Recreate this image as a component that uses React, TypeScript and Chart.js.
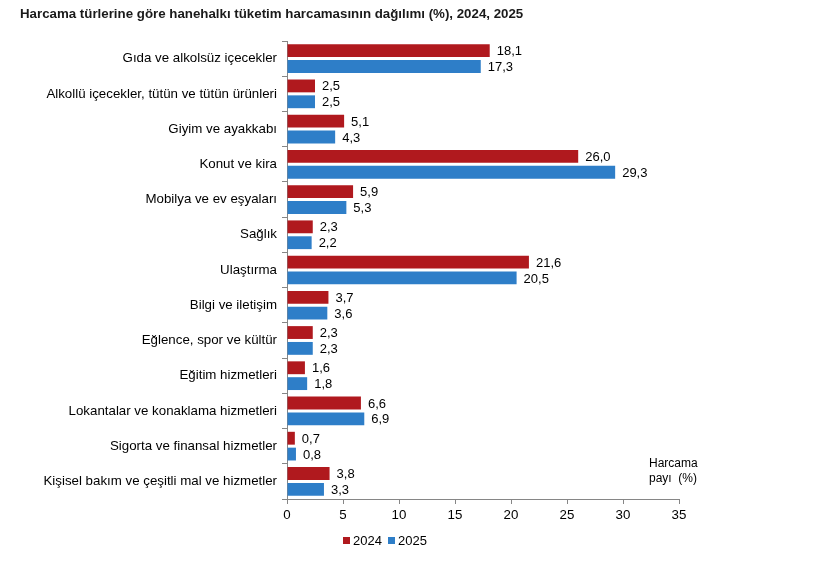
import React, { useEffect, useRef } from "react";
import { Chart, registerables } from "chart.js";

Chart.register(...registerables);

const categories = [
  "Gıda ve alkolsüz içecekler",
  "Alkollü içecekler, tütün ve tütün ürünleri",
  "Giyim ve ayakkabı",
  "Konut ve kira",
  "Mobilya ve ev eşyaları",
  "Sağlık",
  "Ulaştırma",
  "Bilgi ve iletişim",
  "Eğlence, spor ve kültür",
  "Eğitim hizmetleri",
  "Lokantalar ve konaklama hizmetleri",
  "Sigorta ve finansal hizmetler",
  "Kişisel bakım ve çeşitli mal ve hizmetler",
];

const values2024 = [18.1, 2.5, 5.1, 26.0, 5.9, 2.3, 21.6, 3.7, 2.3, 1.6, 6.6, 0.7, 3.8];
const values2025 = [17.3, 2.5, 4.3, 29.3, 5.3, 2.2, 20.5, 3.6, 2.3, 1.8, 6.9, 0.8, 3.3];

const seriesLabels = ["2024", "2025"];
const seriesColors = ["#B0191E", "#2E7EC8"];

const titleText = "Harcama türlerine göre hanehalkı tüketim harcamasının dağılımı (%), 2024, 2025";
const axisTitleLines = ["Harcama", "payı  (%)"];

const FONT = "'Liberation Sans', Arial, sans-serif";

const fmt = (v: number) => v.toFixed(1).replace(".", ",");

// Draws the title, value labels, axis caption and legend on top of the chart.
const annotations = {
  id: "annotations",
  afterDatasetsDraw(chart: any) {
    const { ctx } = chart;
    ctx.save();

    // title
    ctx.fillStyle = "#1a1a1a";
    ctx.font = `bold 13.3px ${FONT}`;
    ctx.textAlign = "left";
    ctx.textBaseline = "middle";
    ctx.fillText(titleText, 20, 14.5);

    // value labels at bar ends
    ctx.font = `13px ${FONT}`;
    ctx.fillStyle = "#000";
    chart.data.datasets.forEach((ds: any, di: number) => {
      const meta = chart.getDatasetMeta(di);
      meta.data.forEach((bar: any, i: number) => {
        ctx.textAlign = "left";
        ctx.textBaseline = "middle";
        ctx.fillText(fmt(ds.data[i]), bar.x + 7, bar.y + 1);
      });
    });

    // axis caption
    ctx.font = `12px ${FONT}`;
    ctx.textAlign = "left";
    ctx.fillText(axisTitleLines[0], 649, 464);
    ctx.fillText(axisTitleLines[1], 649, 479);

    // legend
    ctx.font = `13px ${FONT}`;
    const legendX = [343, 388];
    seriesLabels.forEach((lab, i) => {
      ctx.fillStyle = seriesColors[i];
      ctx.fillRect(legendX[i], 537, 7, 7);
      ctx.fillStyle = "#000";
      ctx.fillText(lab, legendX[i] + 10, 541);
    });

    ctx.restore();
  },
};

export default function App() {
  const canvasRef = useRef<HTMLCanvasElement | null>(null);

  useEffect(() => {
    if (!canvasRef.current) return;
    const chart = new Chart(canvasRef.current, {
      type: "bar",
      data: {
        labels: categories,
        datasets: [
          { label: seriesLabels[0], data: values2024, backgroundColor: seriesColors[0] },
          { label: seriesLabels[1], data: values2025, backgroundColor: seriesColors[1] },
        ],
      },
      options: {
        indexAxis: "y",
        animation: false,
        responsive: false,
        maintainAspectRatio: false,
        layout: { padding: { left: 0, top: 41, right: 141, bottom: 58 } },
        datasets: { bar: { categoryPercentage: 0.9, barPercentage: 0.81 } },
        plugins: {
          legend: { display: false },
          title: { display: false },
          tooltip: { enabled: false },
        },
        scales: {
          x: {
            min: 0,
            max: 35,
            ticks: {
              stepSize: 5,
              color: "#000",
              font: { family: FONT, size: 13.3 },
              padding: 3,
            },
            grid: {
              display: true,
              drawOnChartArea: false,
              drawTicks: true,
              tickLength: 5,
              color: "#868686",
            },
            border: { display: true, color: "#868686" },
            afterFit(scale: any) {
              scale.height = 30;
            },
          },
          y: {
            ticks: {
              color: "#000",
              font: { family: FONT, size: 13.3 },
              padding: 5,
              autoSkip: false,
            },
            grid: {
              display: true,
              offset: true,
              drawOnChartArea: false,
              drawTicks: true,
              tickLength: 5,
              color: "#868686",
            },
            border: { display: true, color: "#868686" },
            afterFit(scale: any) {
              scale.width = 287;
            },
          },
        },
      },
      plugins: [annotations],
    });
    return () => chart.destroy();
  }, []);

  return (
    <div style={{ position: "fixed", left: 0, top: 0, width: 820, height: 587, background: "#fff" }}>
      <canvas ref={canvasRef} width={820} height={587} style={{ width: 820, height: 587 }} />
    </div>
  );
}
